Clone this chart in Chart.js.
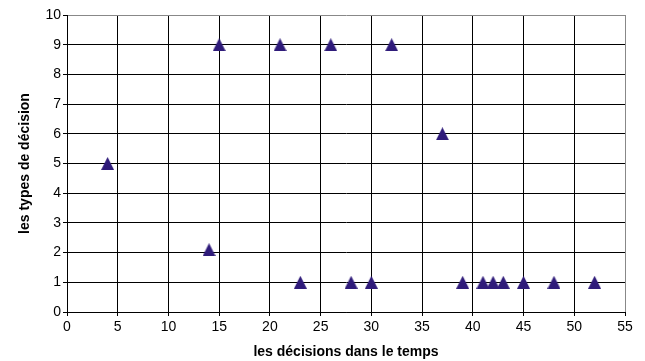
<!DOCTYPE html>
<html>
<head>
<meta charset="utf-8">
<script src="https://cdn.jsdelivr.net/npm/chart.js@4.4.0/dist/chart.umd.min.js"></script>
<style>
  html, body { margin: 0; padding: 0; background: #fff; }
  #chart { display: block; }
</style>
</head>
<body>
<canvas id="chart" width="645" height="361"></canvas>
<script>
// decision times (x) and decision types (y)
const decisionTimes = [4, 14, 15, 21, 23, 26, 28, 30, 32, 37, 39, 41, 42, 43, 45, 48, 52];
const decisionTypes = [5, 2.1, 9, 9, 1, 9, 1, 1, 9, 6, 1, 1, 1, 1, 1, 1, 1];

const xTitle = 'les décisions dans le temps';
const yTitle = 'les types de décision';

const points = decisionTimes.map((t, i) => ({ x: t, y: decisionTypes[i] }));

// triangle marker centred on its bounding box (like the Excel marker)
function makeTriangle(w, h, color) {
  const c = document.createElement('canvas');
  c.width = w;
  c.height = h;
  const g = c.getContext('2d');
  g.fillStyle = color;
  g.beginPath();
  g.moveTo(w / 2, 0);
  g.lineTo(w, h);
  g.lineTo(0, h);
  g.closePath();
  g.fill();
  return c;
}
const marker = makeTriangle(13, 13, '#2f1b7a');

const tickFont = { family: 'Liberation Sans, Arial, sans-serif', size: 14 };
const titleFont = { family: 'Liberation Sans, Arial, sans-serif', size: 14, weight: 'bold' };

const ctx = document.getElementById('chart').getContext('2d');
new Chart(ctx, {
  type: 'scatter',
  data: {
    datasets: [{
      data: points,
      pointStyle: marker,
      pointRadius: 7,
      pointHoverRadius: 7,
      backgroundColor: '#2f1b7a',
      borderColor: '#2f1b7a'
    }]
  },
  options: {
    responsive: false,
    animation: false,
    layout: { padding: { top: 15, right: 20, left: 0, bottom: 0 } },
    plugins: { legend: { display: false }, tooltip: { enabled: false } },
    scales: {
      x: {
        type: 'linear',
        min: 0,
        max: 55,
        ticks: { stepSize: 5, color: '#000', font: tickFont, padding: 3, maxRotation: 0 },
        grid: {
          color: c => (c.tick && c.tick.value === 55 ? '#888' : '#000'),
          tickColor: '#000',
          tickLength: 4,
          lineWidth: 1
        },
        border: { color: '#000', width: 1 },
        title: { display: true, text: xTitle, color: '#000', font: titleFont, padding: { top: 4, bottom: 0 } },
        afterFit: s => { s.height = 49; }
      },
      y: {
        min: 0,
        max: 10,
        ticks: { stepSize: 1, color: '#000', font: tickFont, padding: 2 },
        grid: {
          color: c => (c.tick && c.tick.value === 10 ? '#888' : '#000'),
          tickColor: '#000',
          tickLength: 4,
          lineWidth: 1
        },
        border: { color: '#000', width: 1 },
        title: { display: true, text: yTitle, color: '#000', font: titleFont, padding: { top: 17, bottom: 8 } },
        afterFit: s => { s.width = 67; }
      }
    }
  }
});
</script>
</body>
</html>
